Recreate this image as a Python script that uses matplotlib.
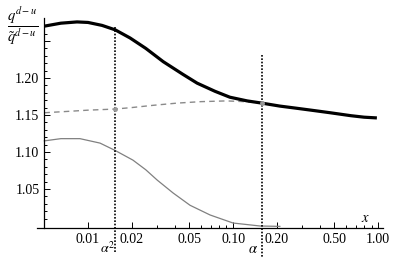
import numpy as np
import matplotlib
matplotlib.use('Agg')
import matplotlib.pyplot as plt
from matplotlib.ticker import FixedLocator, NullFormatter

plt.rcParams['font.family'] = ['Liberation Serif', 'DejaVu Serif']
plt.rcParams['mathtext.fontset'] = 'stix'

# thick black curve
x_thick = [0.005, 0.0065, 0.0084, 0.010, 0.0125, 0.0154, 0.0195, 0.025, 0.033, 0.045,
           0.0565, 0.075, 0.095, 0.125, 0.158, 0.21, 0.276, 0.36, 0.467, 0.65, 0.8, 0.98]
y_thick = [1.270, 1.274, 1.2757, 1.275, 1.271, 1.265, 1.254, 1.240, 1.222, 1.205,
           1.193, 1.182, 1.174, 1.169, 1.166, 1.162, 1.159, 1.156, 1.153, 1.149, 1.147, 1.146]

# dashed gray curve
x_dash = [0.005, 0.0075, 0.010, 0.0154, 0.020, 0.028, 0.041, 0.06, 0.09, 0.12, 0.158]
y_dash = [1.153, 1.155, 1.1565, 1.158, 1.160, 1.163, 1.166, 1.168, 1.169, 1.168, 1.166]

# thin gray curve
x_thin = [0.005, 0.0065, 0.0088, 0.0121, 0.0154, 0.0204, 0.025, 0.030, 0.0386,
          0.0505, 0.0694, 0.1, 0.1536, 0.21]
y_thin = [1.115, 1.118, 1.118, 1.112, 1.102, 1.089, 1.076, 1.062, 1.0446,
          1.028, 1.0149, 1.004, 1.000, 0.9995]

# special points alpha^2 and alpha
x_alpha2 = 0.01535
x_alpha = 0.1585
y_marks = [1.158, 1.166]

xticks = [0.01, 0.02, 0.05, 0.1, 0.2, 0.5, 1.0]
xticklabels = ['0.01', '0.02', '0.05', '0.10', '0.20', '0.50', '1.00']
yticks = [1.05, 1.10, 1.15, 1.20, 1.25]
yticklabels = ['1.05', '1.10', '1.15', '1.20', '']

fig = plt.figure(figsize=(4.07, 2.61), dpi=100)
ax = fig.add_axes([37/407, 1-228/261, (383-37)/407, (228-18)/261])
ax.set_xscale('log')
ax.set_xlim(0.00445, 1.08)
ax.set_ylim(0.9973, 1.281)

ax.plot(x_thin, y_thin, color='#808080', lw=0.9)
ax.plot(x_dash, y_dash, color='#8a8a8a', lw=1.0, dashes=(4, 3))
ax.plot(x_thick, y_thick, color='black', lw=2.3, solid_capstyle='butt')
ax.plot([x_alpha2, x_alpha], y_marks, 'o', color='#999999', ms=2.5, zorder=5)

# vertical dotted lines
ax.plot([x_alpha2, x_alpha2], [1.269, 0.963], color='black', lw=1.2, ls=(0, (1, 1)), clip_on=False)
ax.plot([x_alpha, x_alpha], [1.231, 0.957], color='black', lw=1.2, ls=(0, (1, 1)), clip_on=False)
ax.text(0.01365, 0.9705, r'$\alpha^2$', fontsize=10, ha='center', va='center')
ax.text(0.1376, 0.9676, r'$\alpha$', fontsize=10.5, ha='center', va='center')
ax.text(0.813, 1.0095, r'$x$', fontsize=10.5, ha='center', va='center')

for s in ['top', 'right']:
    ax.spines[s].set_visible(False)
ax.spines['left'].set_position(('data', 0.005))
ax.spines['left'].set_linewidth(0.9)
ax.spines['bottom'].set_linewidth(0.9)

ax.xaxis.set_major_locator(FixedLocator(xticks))
ax.set_xticklabels(xticklabels)
minx = [m * d for d in [0.01, 0.1] for m in [3, 4, 6, 7, 8, 9]]
ax.xaxis.set_minor_locator(FixedLocator(minx))
ax.xaxis.set_minor_formatter(NullFormatter())
ax.yaxis.set_major_locator(FixedLocator(yticks))
ax.set_yticklabels(yticklabels)
ax.yaxis.set_minor_locator(FixedLocator(np.arange(1.01, 1.28, 0.01)))

ax.tick_params(which='both', direction='in', labelsize=10, pad=3.5, width=0.7)
ax.tick_params(which='major', length=4)
ax.tick_params(which='minor', length=2.2)

fig.text(23/407, 1-27/261, r'$\frac{q^{d-u}}{\tilde{q}^{d-u}}$', fontsize=15, ha='center', va='center')

fig.savefig('out.png', dpi=100)
